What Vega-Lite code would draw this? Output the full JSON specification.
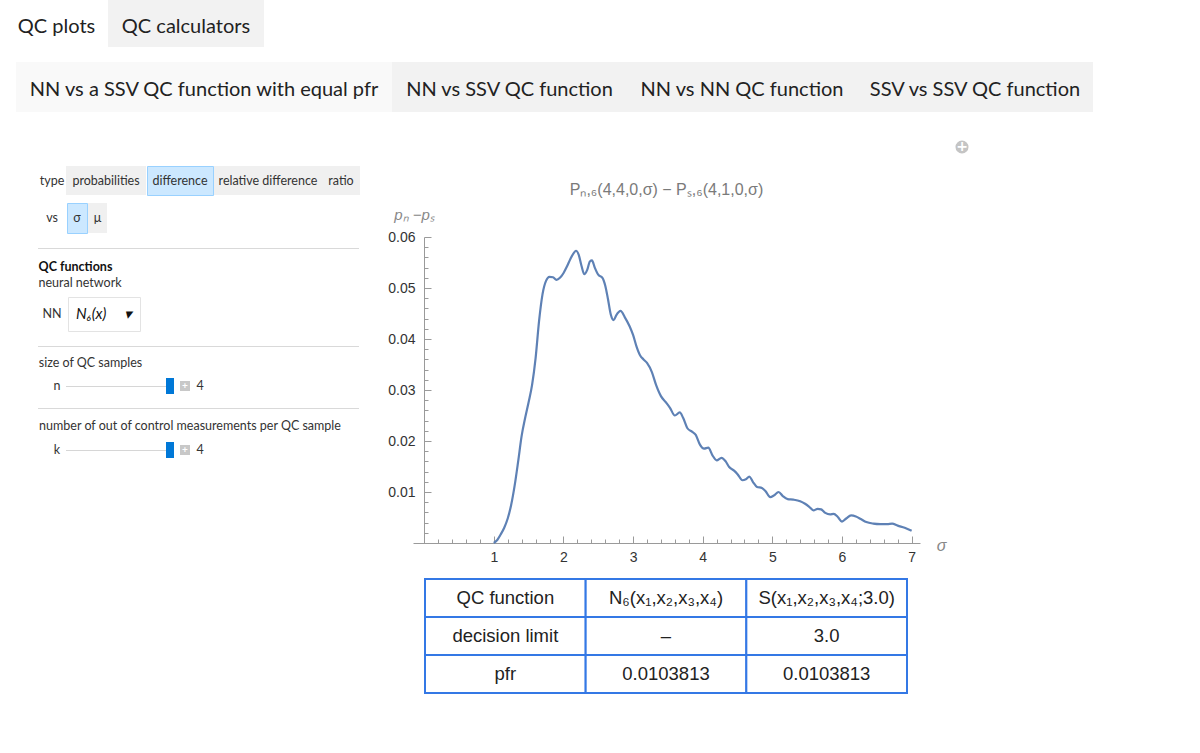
{
  "$schema": "https://vega.github.io/schema/vega-lite/v6.json",
  "background": "white",
  "padding": 0,
  "spacing": 0,
  "data": {"values": [{}]},
  "config": {
    "view": {"stroke": null},
    "font": "Lato",
    "concat": {"spacing": 0},
    "axis": {"grid": false},
    "text": {"font": "Lato", "fontSize": 12.5, "color": "#333333"}
  },
  "vconcat": [
    {
      "spacing": 0,
      "hconcat": [
        {"width": 5, "height": 47, "mark": {"type": "rect", "opacity": 0}},
        {"width": 103, "height": 47, "view": {"fill": "#ffffff"}, "data": {"values": [{"label": "QC plots"}]}, "mark": {"type": "text", "fontSize": 20, "color": "#222222", "baseline": "line-top", "lineHeight": 7}, "encoding": {"text": {"field": "label"}}},
        {"width": 156, "height": 47, "view": {"fill": "#f2f2f2"}, "data": {"values": [{"label": "QC calculators"}]}, "mark": {"type": "text", "fontSize": 20, "color": "#222222", "baseline": "line-top", "lineHeight": 7}, "encoding": {"text": {"field": "label"}}}
      ]
    },
    {"width": 10, "height": 15, "mark": {"type": "rect", "opacity": 0}},
    {
      "spacing": 0,
      "hconcat": [
        {"width": 16, "height": 50, "mark": {"type": "rect", "opacity": 0}},
        {"width": 376, "height": 50, "view": {"fill": "#f9f9f9"}, "data": {"values": [{"label": "NN vs a SSV QC function with equal pfr"}]}, "mark": {"type": "text", "fontSize": 20, "color": "#222222", "baseline": "line-top", "lineHeight": 6}, "encoding": {"text": {"field": "label"}}},
        {"width": 235, "height": 50, "view": {"fill": "#f2f2f2"}, "data": {"values": [{"label": "NN vs SSV QC function"}]}, "mark": {"type": "text", "fontSize": 20, "color": "#222222", "baseline": "line-top", "lineHeight": 6}, "encoding": {"text": {"field": "label"}}},
        {"width": 230, "height": 50, "view": {"fill": "#f2f2f2"}, "data": {"values": [{"label": "NN vs NN QC function"}]}, "mark": {"type": "text", "fontSize": 20, "color": "#222222", "baseline": "line-top", "lineHeight": 6}, "encoding": {"text": {"field": "label"}}},
        {"width": 236, "height": 50, "view": {"fill": "#f2f2f2"}, "data": {"values": [{"label": "SSV vs SSV QC function"}]}, "mark": {"type": "text", "fontSize": 20, "color": "#222222", "baseline": "line-top", "lineHeight": 6}, "encoding": {"text": {"field": "label"}}}
      ]
    },
    {"width": 10, "height": 10, "mark": {"type": "rect", "opacity": 0}},
    {
      "spacing": 0,
      "hconcat": [
        {"width": 27, "height": 10, "mark": {"type": "rect", "opacity": 0}},
        {
          "spacing": 0,
          "vconcat": [
            {"width": 360, "height": 43, "mark": {"type": "rect", "opacity": 0}},
            {
              "spacing": 0,
              "hconcat": [
                {"width": 11, "height": 29, "mark": {"type": "rect", "opacity": 0}},
                {"width": 28, "height": 29, "data": {"values": [{"label": "type"}]}, "mark": {"type": "text"}, "encoding": {"text": {"field": "label"}}},
                {"width": 80, "height": 29, "view": {"fill": "#f0f0f0"}, "data": {"values": [{"label": "probabilities"}]}, "mark": {"type": "text"}, "encoding": {"text": {"field": "label"}}},
                {"width": 66, "height": 29, "view": {"fill": "#cce8ff", "stroke": "#99d1ff"}, "data": {"values": [{"label": "difference"}]}, "mark": {"type": "text"}, "encoding": {"text": {"field": "label"}}},
                {"width": 108, "height": 29, "view": {"fill": "#f0f0f0"}, "data": {"values": [{"label": "relative difference"}]}, "mark": {"type": "text"}, "encoding": {"text": {"field": "label"}}},
                {"width": 38, "height": 29, "view": {"fill": "#f0f0f0"}, "data": {"values": [{"label": "ratio"}]}, "mark": {"type": "text"}, "encoding": {"text": {"field": "label"}}}
              ]
            },
            {"width": 10, "height": 6, "mark": {"type": "rect", "opacity": 0}},
            {
              "spacing": 0,
              "hconcat": [
                {"width": 11, "height": 30, "mark": {"type": "rect", "opacity": 0}},
                {"width": 28, "height": 30, "data": {"values": [{"label": "vs"}]}, "mark": {"type": "text"}, "encoding": {"text": {"field": "label"}}},
                {"width": 20, "height": 30, "view": {"fill": "#cce8ff", "stroke": "#99d1ff"}, "data": {"values": [{"label": "σ"}]}, "mark": {"type": "text"}, "encoding": {"text": {"field": "label"}}},
                {"width": 19, "height": 30, "view": {"fill": "#f0f0f0"}, "data": {"values": [{"label": "μ"}]}, "mark": {"type": "text"}, "encoding": {"text": {"field": "label"}}}
              ]
            },
            {"width": 10, "height": 14, "mark": {"type": "rect", "opacity": 0}},
            {
              "spacing": 0,
              "hconcat": [
                {"width": 11, "height": 1, "mark": {"type": "rect", "opacity": 0}},
                {"width": 321, "height": 1, "mark": {"type": "rect", "color": "#d9d9d9"}}
              ]
            },
            {"width": 10, "height": 9, "mark": {"type": "rect", "opacity": 0}},
            {
              "spacing": 0,
              "hconcat": [
                {"width": 11, "height": 17, "mark": {"type": "rect", "opacity": 0}},
                {"width": 75, "height": 17, "data": {"values": [{"label": "QC functions"}]}, "mark": {"type": "text", "fontWeight": "bold", "color": "#111111"}, "encoding": {"text": {"field": "label"}}}
              ]
            },
            {
              "spacing": 0,
              "hconcat": [
                {"width": 11, "height": 16, "mark": {"type": "rect", "opacity": 0}},
                {"width": 82, "height": 16, "data": {"values": [{"label": "neural network"}]}, "mark": {"type": "text"}, "encoding": {"text": {"field": "label"}}}
              ]
            },
            {"width": 10, "height": 5, "mark": {"type": "rect", "opacity": 0}},
            {
              "spacing": 0,
              "hconcat": [
                {"width": 11, "height": 34, "mark": {"type": "rect", "opacity": 0}},
                {"width": 28, "height": 34, "data": {"values": [{"label": "NN"}]}, "mark": {"type": "text"}, "encoding": {"text": {"field": "label"}}},
                {"width": 1, "height": 34, "mark": {"type": "rect", "opacity": 0}},
                {"width": 72, "height": 34, "view": {"fill": "#ffffff", "stroke": "#e3e3e3"}, "data": {"values": [{"label": "N₆(x)\u00a0\u00a0\u00a0\u00a0\u00a0▾"}]}, "mark": {"type": "text", "fontSize": 15, "fontStyle": "italic", "color": "#111111"}, "encoding": {"text": {"field": "label"}}}
              ]
            },
            {"width": 10, "height": 14, "mark": {"type": "rect", "opacity": 0}},
            {
              "spacing": 0,
              "hconcat": [
                {"width": 11, "height": 1, "mark": {"type": "rect", "opacity": 0}},
                {"width": 321, "height": 1, "mark": {"type": "rect", "color": "#d9d9d9"}}
              ]
            },
            {"width": 10, "height": 8, "mark": {"type": "rect", "opacity": 0}},
            {
              "spacing": 0,
              "hconcat": [
                {"width": 11, "height": 16, "mark": {"type": "rect", "opacity": 0}},
                {"width": 103, "height": 16, "data": {"values": [{"label": "size of QC samples"}]}, "mark": {"type": "text"}, "encoding": {"text": {"field": "label"}}}
              ]
            },
            {"width": 10, "height": 7, "mark": {"type": "rect", "opacity": 0}},
            {
              "spacing": 0,
              "hconcat": [
                {"width": 25, "height": 16, "mark": {"type": "rect", "opacity": 0}},
                {"width": 10, "height": 16, "data": {"values": [{"label": "n"}]}, "mark": {"type": "text"}, "encoding": {"text": {"field": "label"}}},
                {"width": 4, "height": 16, "mark": {"type": "rect", "opacity": 0}},
                {
                  "spacing": 0,
                  "vconcat": [
                    {"width": 100, "height": 8, "mark": {"type": "rect", "opacity": 0}},
                    {"width": 100, "height": 1, "mark": {"type": "rect", "color": "#d6d6d6"}}
                  ]
                },
                {"width": 8, "height": 16, "mark": {"type": "rect", "color": "#0078d7"}},
                {"width": 6, "height": 16, "mark": {"type": "rect", "opacity": 0}},
                {
                  "spacing": 0,
                  "vconcat": [
                    {"width": 10, "height": 3, "mark": {"type": "rect", "opacity": 0}},
                    {"width": 10, "height": 10, "view": {"fill": "#c8c8c8"}, "data": {"values": [{"label": "+"}]}, "mark": {"type": "text", "color": "#ffffff", "fontWeight": "bold", "fontSize": 10}, "encoding": {"text": {"field": "label"}}}
                  ]
                },
                {"width": 5, "height": 16, "mark": {"type": "rect", "opacity": 0}},
                {"width": 10, "height": 16, "data": {"values": [{"label": "4"}]}, "mark": {"type": "text"}, "encoding": {"text": {"field": "label"}}}
              ]
            },
            {"width": 10, "height": 14, "mark": {"type": "rect", "opacity": 0}},
            {
              "spacing": 0,
              "hconcat": [
                {"width": 11, "height": 1, "mark": {"type": "rect", "opacity": 0}},
                {"width": 321, "height": 1, "mark": {"type": "rect", "color": "#d9d9d9"}}
              ]
            },
            {"width": 10, "height": 9, "mark": {"type": "rect", "opacity": 0}},
            {
              "spacing": 0,
              "hconcat": [
                {"width": 11, "height": 16, "mark": {"type": "rect", "opacity": 0}},
                {"width": 304, "height": 16, "data": {"values": [{"label": "number of out of control measurements per QC sample"}]}, "mark": {"type": "text"}, "encoding": {"text": {"field": "label"}}}
              ]
            },
            {"width": 10, "height": 8, "mark": {"type": "rect", "opacity": 0}},
            {
              "spacing": 0,
              "hconcat": [
                {"width": 25, "height": 16, "mark": {"type": "rect", "opacity": 0}},
                {"width": 10, "height": 16, "data": {"values": [{"label": "k"}]}, "mark": {"type": "text"}, "encoding": {"text": {"field": "label"}}},
                {"width": 4, "height": 16, "mark": {"type": "rect", "opacity": 0}},
                {
                  "spacing": 0,
                  "vconcat": [
                    {"width": 100, "height": 8, "mark": {"type": "rect", "opacity": 0}},
                    {"width": 100, "height": 1, "mark": {"type": "rect", "color": "#d6d6d6"}}
                  ]
                },
                {"width": 8, "height": 16, "mark": {"type": "rect", "color": "#0078d7"}},
                {"width": 6, "height": 16, "mark": {"type": "rect", "opacity": 0}},
                {
                  "spacing": 0,
                  "vconcat": [
                    {"width": 10, "height": 3, "mark": {"type": "rect", "opacity": 0}},
                    {"width": 10, "height": 10, "view": {"fill": "#c8c8c8"}, "data": {"values": [{"label": "+"}]}, "mark": {"type": "text", "color": "#ffffff", "fontWeight": "bold", "fontSize": 10}, "encoding": {"text": {"field": "label"}}}
                  ]
                },
                {"width": 5, "height": 16, "mark": {"type": "rect", "opacity": 0}},
                {"width": 10, "height": 16, "data": {"values": [{"label": "4"}]}, "mark": {"type": "text"}, "encoding": {"text": {"field": "label"}}}
              ]
            }
          ]
        },
        {
          "spacing": 0,
          "vconcat": [
            {
              "spacing": 0,
              "vconcat": [
                {"width": 10, "height": 17, "mark": {"type": "rect", "opacity": 0}},
                {
                  "spacing": 0,
                  "hconcat": [
                    {"width": 541, "height": 16, "mark": {"type": "rect", "opacity": 0}},
                    {
                      "width": 16, "height": 16,
                      "layer": [
                        {"mark": {"type": "point", "shape": "circle", "filled": true, "size": 170, "color": "#c4c4c4", "opacity": 1}},
                        {"data": {"values": [{"label": "+"}]}, "mark": {"type": "text", "color": "#ffffff", "fontWeight": "bold", "fontSize": 14, "font": "DejaVu Sans"}, "encoding": {"text": {"field": "label"}}}
                      ]
                    }
                  ]
                },
                {"width": 10, "height": 27, "mark": {"type": "rect", "opacity": 0}}
              ]
            },
            {
              "width": 507,
              "height": 306,
              "title": {"text": "Pₙ,₆(4,4,0,σ) − Pₛ,₆(4,1,0,σ)", "font": "Liberation Sans", "fontSize": 16, "fontWeight": "normal", "color": "#7a7a7a", "anchor": "middle", "offset": 9},
              "data": {"values": [
                {"sigma": 1.0, "p": 0.0},
                {"sigma": 1.05, "p": 0.0006},
                {"sigma": 1.1, "p": 0.0017},
                {"sigma": 1.15, "p": 0.003},
                {"sigma": 1.2, "p": 0.0048},
                {"sigma": 1.25, "p": 0.0075},
                {"sigma": 1.3, "p": 0.0113},
                {"sigma": 1.35, "p": 0.016},
                {"sigma": 1.4, "p": 0.021},
                {"sigma": 1.45, "p": 0.0245},
                {"sigma": 1.5, "p": 0.0276},
                {"sigma": 1.55, "p": 0.031},
                {"sigma": 1.6, "p": 0.0362},
                {"sigma": 1.65, "p": 0.0435},
                {"sigma": 1.7, "p": 0.0488},
                {"sigma": 1.75, "p": 0.0514},
                {"sigma": 1.8, "p": 0.0522},
                {"sigma": 1.85, "p": 0.0521},
                {"sigma": 1.9, "p": 0.0516},
                {"sigma": 1.95, "p": 0.052},
                {"sigma": 2.0, "p": 0.0529},
                {"sigma": 2.05, "p": 0.0542},
                {"sigma": 2.1, "p": 0.0557},
                {"sigma": 2.15, "p": 0.0569},
                {"sigma": 2.18, "p": 0.0573},
                {"sigma": 2.22, "p": 0.0565},
                {"sigma": 2.26, "p": 0.0543},
                {"sigma": 2.3, "p": 0.0527},
                {"sigma": 2.34, "p": 0.0535},
                {"sigma": 2.38, "p": 0.0552},
                {"sigma": 2.41, "p": 0.0554},
                {"sigma": 2.45, "p": 0.054},
                {"sigma": 2.5, "p": 0.0526},
                {"sigma": 2.56, "p": 0.052},
                {"sigma": 2.6, "p": 0.0505},
                {"sigma": 2.64, "p": 0.0478},
                {"sigma": 2.68, "p": 0.0448},
                {"sigma": 2.72, "p": 0.0437},
                {"sigma": 2.76, "p": 0.0447},
                {"sigma": 2.82, "p": 0.0455},
                {"sigma": 2.88, "p": 0.0443},
                {"sigma": 2.95, "p": 0.0425},
                {"sigma": 3.0, "p": 0.0408},
                {"sigma": 3.05, "p": 0.0385},
                {"sigma": 3.1, "p": 0.0368},
                {"sigma": 3.15, "p": 0.036},
                {"sigma": 3.2, "p": 0.0353},
                {"sigma": 3.27, "p": 0.0335},
                {"sigma": 3.33, "p": 0.031},
                {"sigma": 3.4, "p": 0.0288},
                {"sigma": 3.47, "p": 0.0276},
                {"sigma": 3.53, "p": 0.0265},
                {"sigma": 3.6, "p": 0.025},
                {"sigma": 3.67, "p": 0.0256},
                {"sigma": 3.72, "p": 0.0245},
                {"sigma": 3.78, "p": 0.0225},
                {"sigma": 3.85, "p": 0.0218},
                {"sigma": 3.9, "p": 0.0212},
                {"sigma": 3.96, "p": 0.0193},
                {"sigma": 4.02, "p": 0.0185},
                {"sigma": 4.08, "p": 0.0187},
                {"sigma": 4.14, "p": 0.0172},
                {"sigma": 4.2, "p": 0.0162},
                {"sigma": 4.27, "p": 0.0167},
                {"sigma": 4.33, "p": 0.016},
                {"sigma": 4.38, "p": 0.0149},
                {"sigma": 4.45, "p": 0.0142},
                {"sigma": 4.5, "p": 0.0135},
                {"sigma": 4.57, "p": 0.0123},
                {"sigma": 4.62, "p": 0.0125},
                {"sigma": 4.67, "p": 0.013},
                {"sigma": 4.72, "p": 0.012},
                {"sigma": 4.78, "p": 0.011},
                {"sigma": 4.85, "p": 0.0108},
                {"sigma": 4.9, "p": 0.0102},
                {"sigma": 4.97, "p": 0.009},
                {"sigma": 5.02, "p": 0.0093},
                {"sigma": 5.09, "p": 0.01},
                {"sigma": 5.15, "p": 0.0092},
                {"sigma": 5.22, "p": 0.0086},
                {"sigma": 5.3, "p": 0.0085},
                {"sigma": 5.4, "p": 0.0082},
                {"sigma": 5.47, "p": 0.0077},
                {"sigma": 5.53, "p": 0.0071},
                {"sigma": 5.59, "p": 0.0064},
                {"sigma": 5.65, "p": 0.0067},
                {"sigma": 5.7, "p": 0.0066},
                {"sigma": 5.76, "p": 0.0059},
                {"sigma": 5.83, "p": 0.0056},
                {"sigma": 5.88, "p": 0.0057},
                {"sigma": 5.94, "p": 0.0051},
                {"sigma": 6.0, "p": 0.0042},
                {"sigma": 6.06, "p": 0.0048},
                {"sigma": 6.13, "p": 0.0054},
                {"sigma": 6.2, "p": 0.0052},
                {"sigma": 6.27, "p": 0.0047},
                {"sigma": 6.35, "p": 0.0041},
                {"sigma": 6.45, "p": 0.0038},
                {"sigma": 6.55, "p": 0.0037},
                {"sigma": 6.65, "p": 0.0037},
                {"sigma": 6.72, "p": 0.0038},
                {"sigma": 6.8, "p": 0.0034},
                {"sigma": 6.9, "p": 0.003},
                {"sigma": 7.0, "p": 0.0024}
              ]},
              "layer": [
                {
                  "mark": {"type": "line", "color": "#5e81b5", "strokeWidth": 2.2, "interpolate": "monotone"},
                  "encoding": {
                    "x": {"field": "sigma", "type": "quantitative", "scale": {"domain": [-0.16, 7.12], "nice": false, "zero": false},
                      "axis": {"orient": "bottom", "values": [1, 2, 3, 4, 5, 6, 7], "format": "d", "tickSize": -7, "labelPadding": 14, "labelFlush": false,
                        "labelFont": "Liberation Sans", "labelFontSize": 14, "labelColor": "#333333", "domainColor": "#9a9a9a", "tickColor": "#9a9a9a",
                        "title": "σ", "titleX": 528, "titleY": 2, "titleAlign": "center", "titleBaseline": "middle", "titleColor": "#888888",
                        "titleFont": "Liberation Sans", "titleFontStyle": "italic", "titleFontWeight": "normal", "titleFontSize": 16}},
                    "y": {"field": "p", "type": "quantitative", "scale": {"domain": [0, 0.06], "nice": false},
                      "axis": {"orient": "left", "offset": -11, "values": [0.01, 0.02, 0.03, 0.04, 0.05, 0.06], "format": ".2f", "tickSize": -7, "labelPadding": 16,
                        "labelFont": "Liberation Sans", "labelFontSize": 14, "labelColor": "#333333", "domainColor": "#9a9a9a", "tickColor": "#9a9a9a",
                        "title": "pₙ −pₛ", "titleAngle": 0, "titleX": -10, "titleY": -23, "titleAlign": "center", "titleBaseline": "middle", "titleColor": "#888888",
                        "titleFont": "Liberation Sans", "titleFontStyle": "italic", "titleFontWeight": "normal", "titleFontSize": 15}}
                  }
                },
                {
                  "mark": {"type": "line", "opacity": 0},
                  "encoding": {
                    "x": {"field": "sigma", "type": "quantitative",
                      "axis": {"orient": "bottom", "values": [0.2, 0.4, 0.6, 0.8, 1.2, 1.4, 1.6, 1.8, 2.2, 2.4, 2.6, 2.8, 3.2, 3.4, 3.6, 3.8, 4.2, 4.4, 4.6, 4.8, 5.2, 5.4, 5.6, 5.8, 6.2, 6.4, 6.6, 6.8],
                        "tickSize": -4, "labels": false, "domain": false, "title": null, "tickColor": "#9a9a9a"}},
                    "y": {"field": "p", "type": "quantitative",
                      "axis": {"orient": "left", "offset": -11, "values": [0.002, 0.004, 0.006, 0.008, 0.012, 0.014, 0.016, 0.018, 0.022, 0.024, 0.026, 0.028, 0.032, 0.034, 0.036, 0.038, 0.042, 0.044, 0.046, 0.048, 0.052, 0.054, 0.056, 0.058],
                        "tickSize": -4, "labels": false, "domain": false, "title": null, "tickColor": "#9a9a9a"}}
                  }
                }
              ],
              "resolve": {"axis": {"x": "independent", "y": "independent"}}
            },
            {
              "spacing": 0,
              "vconcat": [
                {"width": 10, "height": 14, "mark": {"type": "rect", "opacity": 0}},
                {
                  "spacing": 0,
                  "hconcat": [
                    {"width": 11, "height": 114, "mark": {"type": "rect", "opacity": 0}},
                    {
                      "width": 482,
                      "height": 114,
                      "data": {"values": [
                        {"row": "QC function", "col": "label", "cell": "QC function"},
                        {"row": "QC function", "col": "NN", "cell": "N₆(x₁,x₂,x₃,x₄)"},
                        {"row": "QC function", "col": "SSV", "cell": "S(x₁,x₂,x₃,x₄;3.0)"},
                        {"row": "decision limit", "col": "label", "cell": "decision limit"},
                        {"row": "decision limit", "col": "NN", "cell": "–"},
                        {"row": "decision limit", "col": "SSV", "cell": "3.0"},
                        {"row": "pfr", "col": "label", "cell": "pfr"},
                        {"row": "pfr", "col": "NN", "cell": "0.0103813"},
                        {"row": "pfr", "col": "SSV", "cell": "0.0103813"}
                      ]},
                      "encoding": {
                        "x": {"field": "col", "type": "nominal", "sort": ["label", "NN", "SSV"], "axis": null, "scale": {"paddingInner": 0, "paddingOuter": 0}},
                        "y": {"field": "row", "type": "nominal", "sort": ["QC function", "decision limit", "pfr"], "axis": null, "scale": {"paddingInner": 0, "paddingOuter": 0}}
                      },
                      "layer": [
                        {"mark": {"type": "rect", "fill": "#ffffff", "stroke": "#3478e5", "strokeWidth": 2}},
                        {"mark": {"type": "text", "font": "Liberation Sans", "fontSize": 18.5, "color": "#222222"}, "encoding": {"text": {"field": "cell"}}}
                      ]
                    }
                  ]
                }
              ]
            }
          ]
        }
      ]
    }
  ]
}
